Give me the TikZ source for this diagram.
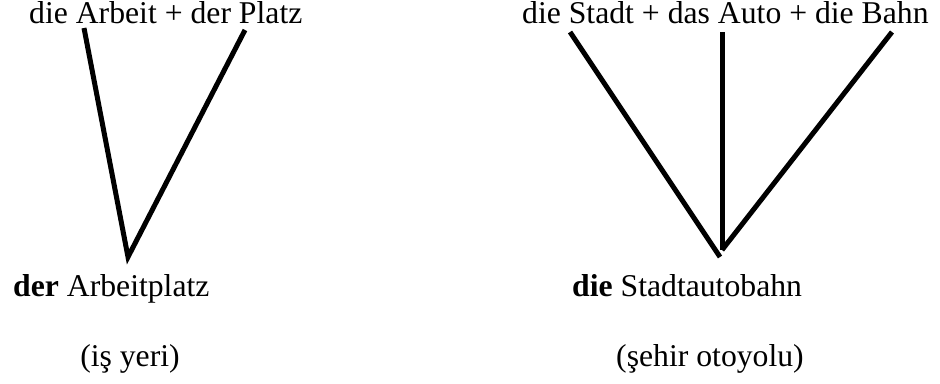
\documentclass[tikz,border=0pt]{standalone}
\usepackage{fontspec}
\setmainfont{Liberation Serif}
\begin{document}
\begin{tikzpicture}[x=1pt,y=-1pt,
  lbl/.style={inner sep=0pt,font=\fontsize{31.7}{38}\selectfont},
  stroke/.style={line width=5pt,black,line join=miter}]
\useasboundingbox (0,0) rectangle (940,383);
% texts
\node[lbl,anchor=base west] (parts1) at (29,23) {die Arbeit + der Platz};
\node[lbl,anchor=base west] (parts2) at (522,23) {die Stadt + das Auto + die Bahn};
\node[lbl,anchor=base west] (word1) at (13,296) {\textbf{der} Arbeitplatz};
\node[lbl,anchor=base west] (word2) at (572,296) {\textbf{die} Stadtautobahn};
\node[lbl,anchor=base] (tr1) at (130,366) {(iş yeri)};
\node[lbl,anchor=base] (tr2) at (710,366) {(şehir otoyolu)};
% line ends
\coordinate (a1) at (84,28);
\coordinate (a2) at (245,30);
\coordinate (v1) at (128,257);
\coordinate (b1) at (570,32);
\coordinate (b2) at (722,32);
\coordinate (b3) at (892,32);
\coordinate (v2) at (720,257);
\coordinate (v3) at (722,250);
% lines
\draw[stroke] (a1) -- (v1) -- (a2);
\draw[stroke] (b1) -- (v2);
\draw[stroke] (b2) -- (v3);
\draw[stroke] (b3) -- (v3);
\end{tikzpicture}
\end{document}
